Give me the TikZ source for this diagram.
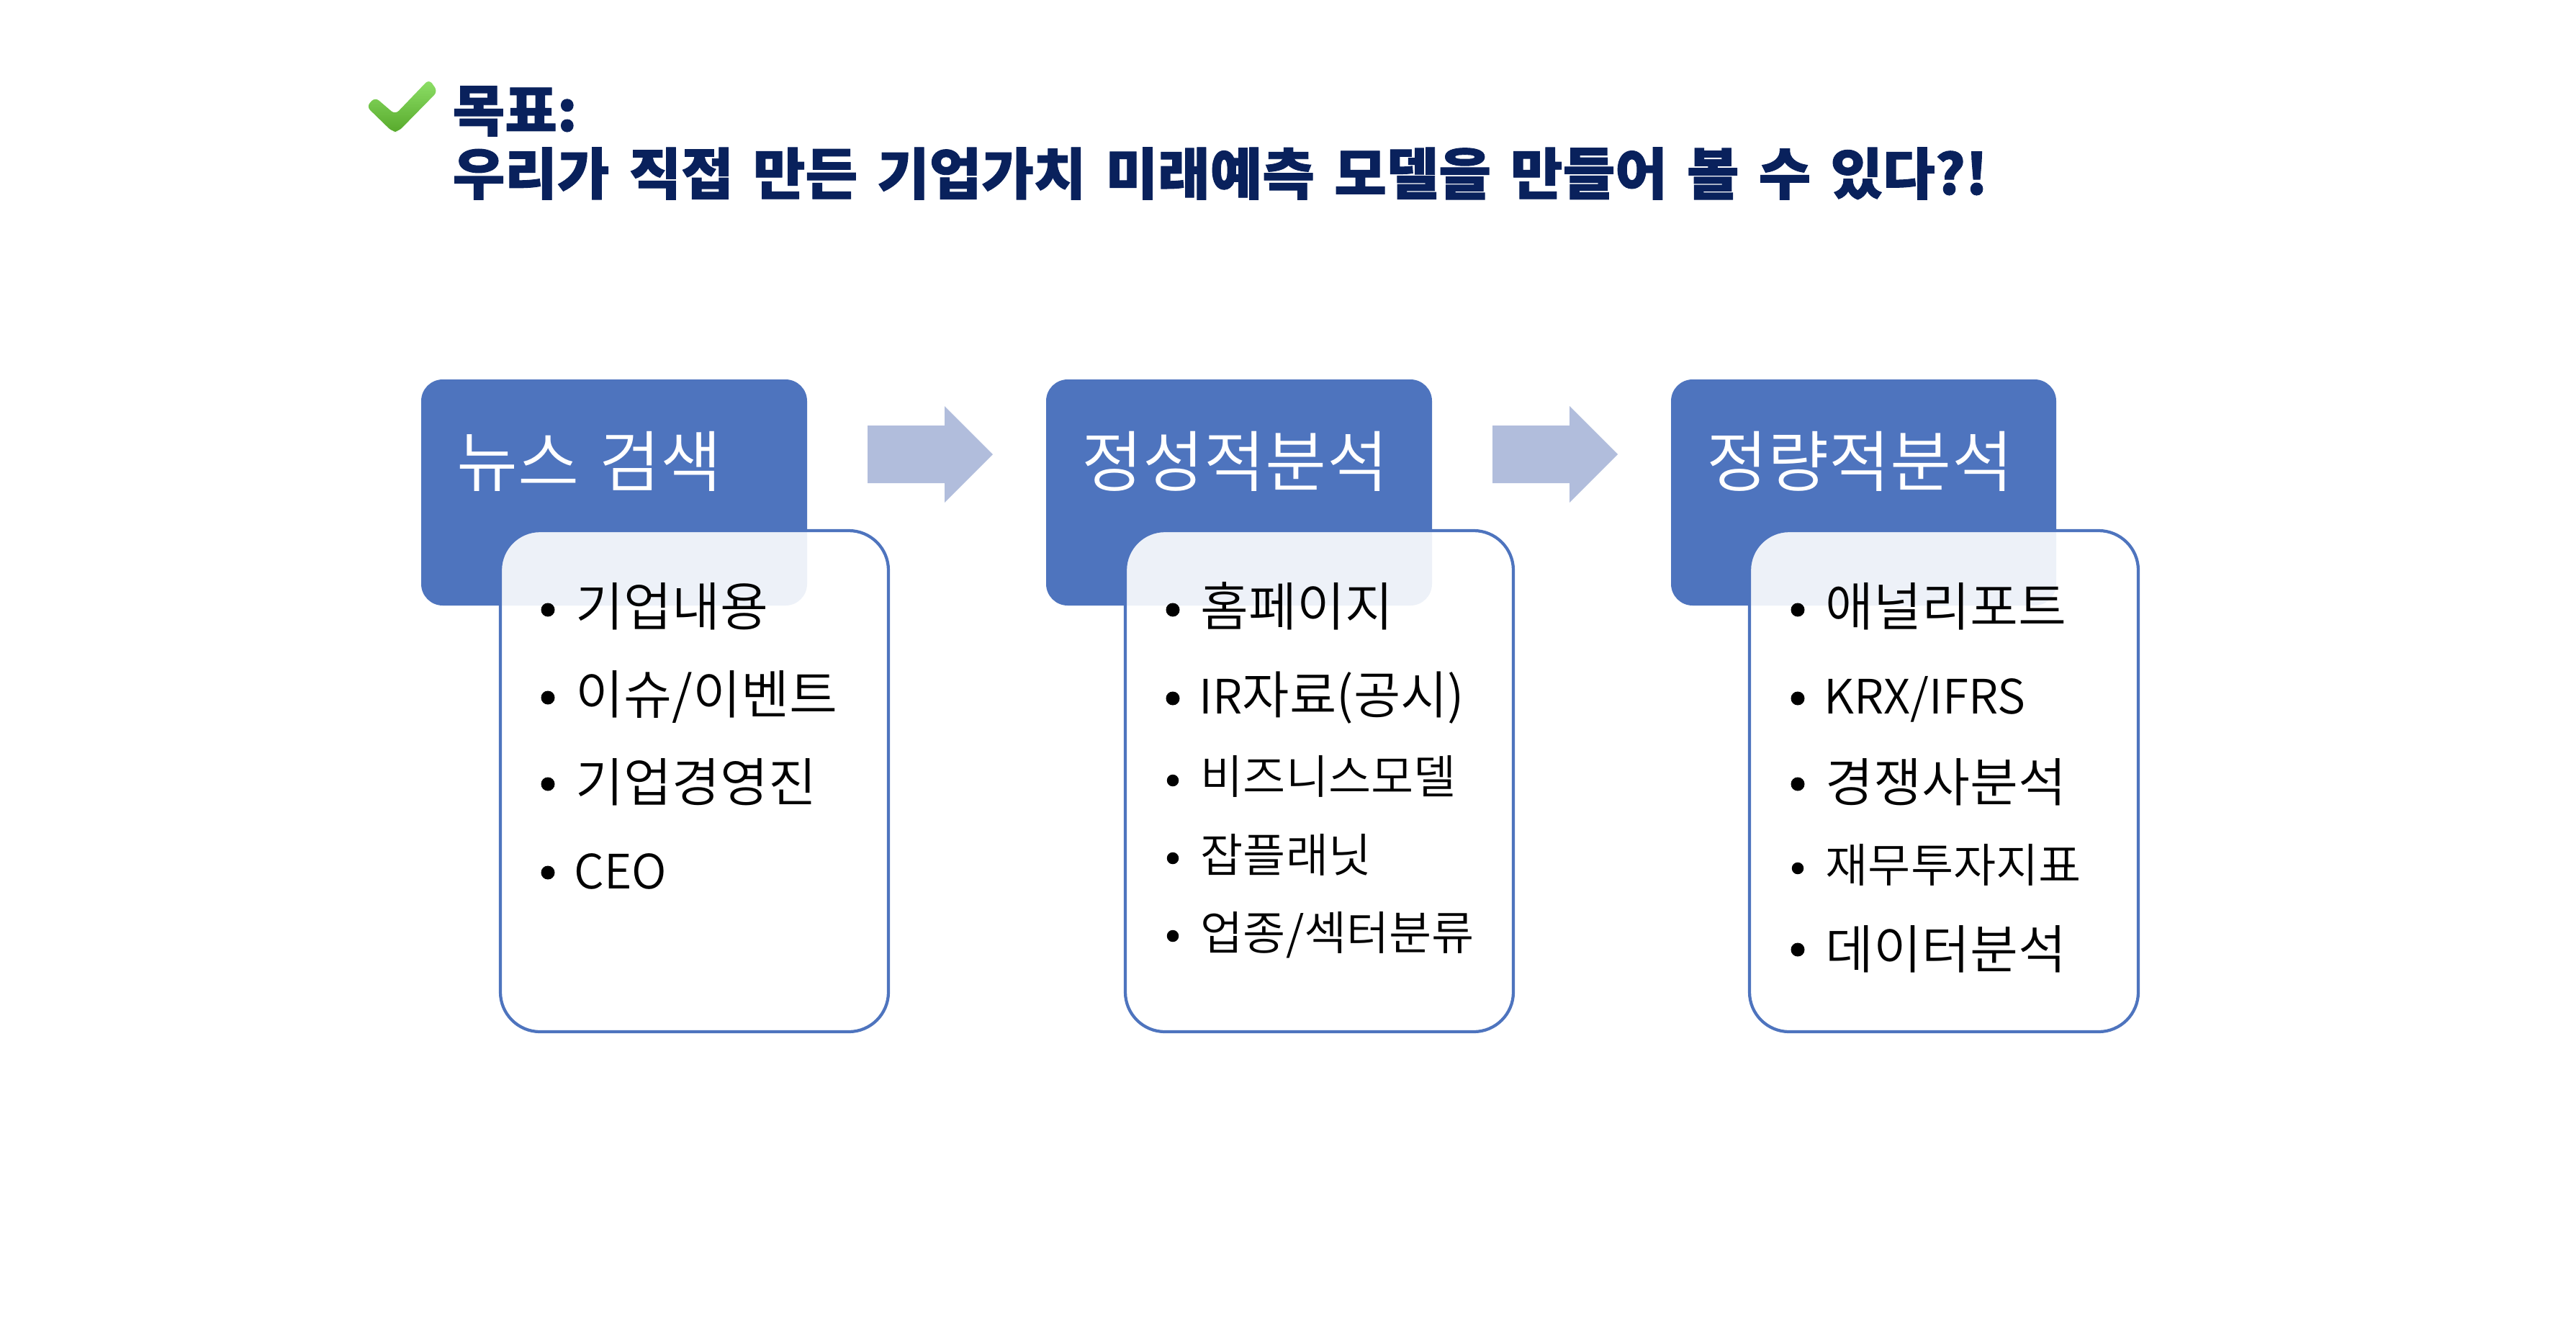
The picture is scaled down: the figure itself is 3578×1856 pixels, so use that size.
\documentclass[tikz,border=0pt]{standalone}
\usepackage{fontspec}
\setmainfont{Noto Sans CJK KR}
\newfontfamily\titlefont[FakeBold=1.2,FakeStretch=1.02,WordSpace=1.5]{Noto Sans CJK KR Black}
\newfontfamily\listfont{Noto Sans CJK KR DemiLight}
\newcommand{\latinsize}{\fontsize{18.7}{24}\selectfont}
\usetikzlibrary{positioning}
\definecolor{headblue}{RGB}{78,116,190}
\definecolor{arrowblue}{RGB}{177,189,220}
\definecolor{titleblue}{RGB}{9,33,92}
\definecolor{checktop}{RGB}{142,224,104}
\definecolor{checkbot}{RGB}{88,170,44}
\tikzset{
  headbox/.style={fill=headblue, rounded corners=0.3cm},
  listbox/.style={draw=headblue, line width=1.2pt, fill=white, fill opacity=0.9, rounded corners=0.55cm},
  headtext/.style={anchor=base west, text=white, inner sep=0pt, font=\listfont\fontsize{26.3}{30}\selectfont},
  itemtext/.style={anchor=base west, inner sep=0pt, font=\listfont\fontsize{20.7}{24}\selectfont},
  smalltext/.style={anchor=base west, inner sep=0pt, font=\listfont\fontsize{18.3}{22}\selectfont},
  titletext/.style={anchor=base west, inner sep=0pt, text=titleblue, font=\titlefont\fontsize{22}{26}\selectfont},
  dot/.style={circle, fill=black, inner sep=0pt, minimum size=0.19cm},
  smalldot/.style={circle, fill=black, inner sep=0pt, minimum size=0.165cm}
}
\begin{document}
\begin{tikzpicture}[x=0.01cm,y=-0.01cm]
  \useasboundingbox (0,0) rectangle (3578,1856);
  % check mark
  \shade[top color=checktop, bottom color=checkbot, rounded corners=2pt]
    (596,110) -- (608,127) -- (553,183) -- (545,183) -- (509,148) -- (521,135) -- (549,159) -- cycle;
  % title
  \node[titletext] (goal) at (628,182) {목표:};
  \node[titletext] (title) at (628,270) {우리가 직접 만든 기업가치 미래예측 모델을 만들어 볼 수 있다?!};
  % first column
  \fill[headbox] (585,527) rectangle (1121,841);
  \node[headtext] (head1) at (634,675) {뉴스\hspace{0.08em} 검색};
  \draw[listbox] (695,737) rectangle (1234,1433);
  \node[dot] (dot11) at (761,847) {};
  \node[itemtext] (item11) at (799,869) {기업내용};
  \node[dot] (dot12) at (761,969) {};
  \node[itemtext] (item12) at (799,991) {이슈/이벤트};
  \node[dot] (dot13) at (761,1089) {};
  \node[itemtext] (item13) at (799,1113) {기업경영진};
  \node[dot] (dot14) at (761,1212) {};
  \node[itemtext] (item14) at (797,1234) {\latinsize CEO};
  % second column
  \fill[headbox] (1453,527) rectangle (1989,841);
  \node[headtext] (head2) at (1502,675) {정성적분석};
  \draw[listbox] (1563,737) rectangle (2102,1433);
  \node[dot] (dot21) at (1629,847) {};
  \node[itemtext] (item21) at (1667,869) {홈페이지};
  \node[dot] (dot22) at (1629,970) {};
  \node[itemtext] (item22) at (1665,991) {{\latinsize IR}{\fontsize{20.2}{24}\selectfont 자료(공시)}};
  \node[smalldot] (dot23) at (1629,1084) {};
  \node[smalltext] (item23) at (1667,1102) {비즈니스모델};
  \node[smalldot] (dot24) at (1629,1192) {};
  \node[smalltext] (item24) at (1667,1211) {잡플래닛};
  \node[smalldot] (dot25) at (1629,1300) {};
  \node[smalltext] (item25) at (1667,1319) {업종/섹터분류};
  % third column
  \fill[headbox] (2321,527) rectangle (2856,841);
  \node[headtext] (head3) at (2370,675) {정량적분석};
  \draw[listbox] (2430,737) rectangle (2970,1433);
  \node[dot] (dot31) at (2497,847) {};
  \node[itemtext] (item31) at (2535,869) {애널리포트};
  \node[dot] (dot32) at (2497,970) {};
  \node[itemtext] (item32) at (2533,991) {\latinsize KRX/IFRS};
  \node[dot] (dot33) at (2497,1089) {};
  \node[itemtext] (item33) at (2535,1113) {경쟁사분석};
  \node[smalldot] (dot34) at (2497,1206) {};
  \node[smalltext] (item34) at (2535,1225) {재무투자지표};
  \node[dot] (dot35) at (2497,1319) {};
  \node[itemtext] (item35) at (2535,1345) {데이터분석};
  % arrows between columns
  \foreach \dx in {0,868}
    \fill[arrowblue, xshift=\dx*0.01cm] (1205,591) -- (1312,591) -- (1312,564) -- (1379,631) -- (1312,698) -- (1312,671) -- (1205,671) -- cycle;
\end{tikzpicture}
\end{document}
